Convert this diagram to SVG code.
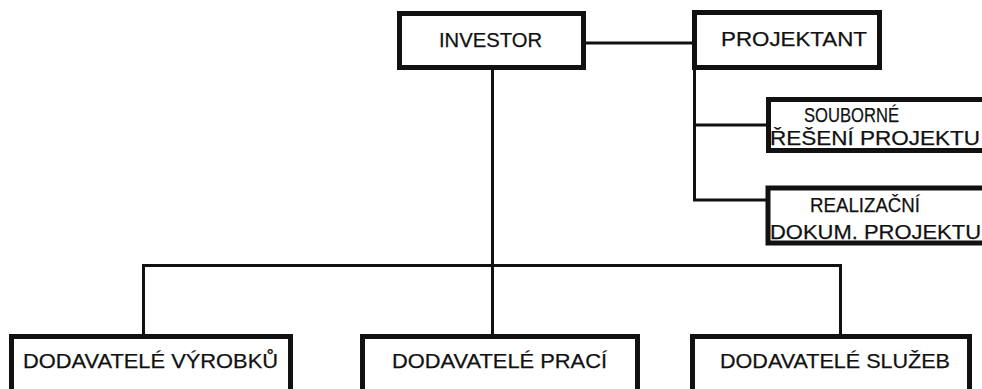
<svg xmlns="http://www.w3.org/2000/svg" width="982" height="389" viewBox="0 0 982 389">
  <style>
    .box { fill: #ffffff; stroke: #111111; stroke-width: 5; }
    .lbl { font-family: "Liberation Sans", Arial, Helvetica, sans-serif; font-size: 21px; fill: #111111; stroke: #111111; stroke-width: 0.25; }
    .wire { fill: none; stroke: #111111; stroke-width: 3; stroke-linejoin: miter; }
  </style>
  <rect width="982" height="389" fill="#ffffff"/>

  <!-- connectors -->
  <g id="connectors">
    <!-- investor to designer -->
    <path class="wire" d="M585 43 H694"/>
    <!-- designer branches -->
    <path class="wire" d="M694.5 70 V200 H768"/>
    <path class="wire" d="M694.5 125 H768"/>
    <!-- investor to suppliers bus -->
    <path class="wire" d="M492.5 70 V337"/>
    <path class="wire" d="M143.5 337 V265.5 H840.5 V337"/>
  </g>

  <g id="investor">
    <rect class="box" x="399.5" y="13.5" width="184" height="54"/>
    <text class="lbl" x="439" y="47" textLength="103" lengthAdjust="spacingAndGlyphs">INVESTOR</text>
  </g>

  <g id="projektant">
    <rect class="box" x="694.5" y="12.5" width="185" height="55"/>
    <text class="lbl" x="721" y="46" textLength="146" lengthAdjust="spacingAndGlyphs">PROJEKTANT</text>
  </g>

  <g id="souborne-reseni">
    <rect class="box" x="768.5" y="99.5" width="230" height="51"/>
    <text class="lbl" x="804" y="121.5" textLength="95" lengthAdjust="spacingAndGlyphs">SOUBORNÉ</text>
    <text class="lbl" x="770" y="144.5" textLength="210" lengthAdjust="spacingAndGlyphs">ŘEŠENÍ  PROJEKTU</text>
  </g>

  <g id="realizacni-dokum">
    <rect class="box" x="768" y="188" width="230" height="55"/>
    <text class="lbl" x="810" y="212" textLength="110" lengthAdjust="spacingAndGlyphs">REALIZAČNÍ</text>
    <text class="lbl" x="770" y="238.5" textLength="211" lengthAdjust="spacingAndGlyphs">DOKUM.  PROJEKTU</text>
  </g>

  <g id="dodavatele-vyrobku">
    <rect class="box" x="11.5" y="336.5" width="279" height="70"/>
    <text class="lbl" x="23" y="368" textLength="255" lengthAdjust="spacingAndGlyphs">DODAVATELÉ  VÝROBKŮ</text>
  </g>

  <g id="dodavatele-praci">
    <rect class="box" x="362.5" y="336.5" width="275" height="70"/>
    <text class="lbl" x="392" y="368" textLength="215" lengthAdjust="spacingAndGlyphs">DODAVATELÉ  PRACÍ</text>
  </g>

  <g id="dodavatele-sluzeb">
    <rect class="box" x="692.5" y="336.5" width="277" height="70"/>
    <text class="lbl" x="720" y="367.5" textLength="230" lengthAdjust="spacingAndGlyphs">DODAVATELÉ  SLUŽEB</text>
  </g>
</svg>
